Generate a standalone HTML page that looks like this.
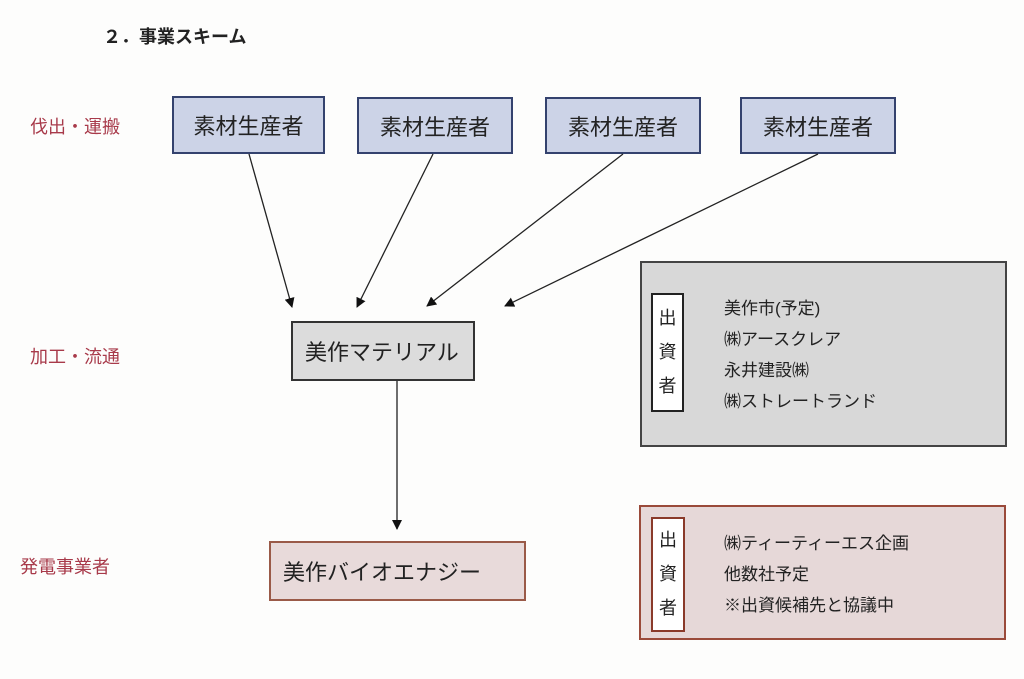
<!DOCTYPE html>
<html><head><meta charset="utf-8"><style>
body{margin:0;width:1024px;height:679px;background:#fdfdfc;position:relative;overflow:hidden;font-family:"Liberation Sans","Noto Sans CJK JP",sans-serif;color:#222}
.a{position:absolute;box-sizing:border-box}
.top{background:#ccd3e7;border:2px solid #34426e;font-size:22px;display:flex;align-items:center;justify-content:center}
.lab{position:absolute;color:#a83a4a;font-size:18px}
.side{position:absolute;background:#fff;box-sizing:border-box;font-size:18px;line-height:34px;text-align:center}
.txt{position:absolute;font-size:17px;line-height:31px}
</style></head><body>
<div class="a" style="left:103px;top:23px;font-size:18px;font-weight:bold">２．事業スキーム</div>
<div class="lab" style="left:30px;top:113px">伐出・運搬</div>
<div class="lab" style="left:30px;top:343px">加工・流通</div>
<div class="lab" style="left:20px;top:553px">発電事業者</div>
<div class="a top" style="left:172px;top:96px;width:153px;height:58px">素材生産者</div>
<div class="a top" style="left:357px;top:97px;width:156px;height:57px">素材生産者</div>
<div class="a top" style="left:545px;top:97px;width:156px;height:57px">素材生産者</div>
<div class="a top" style="left:740px;top:97px;width:156px;height:57px">素材生産者</div>
<div class="a top" style="left:291px;top:321px;width:184px;height:60px;background:#dcdcdc;border-color:#333;justify-content:flex-start;padding-left:12px">美作マテリアル</div>
<div class="a top" style="left:269px;top:541px;width:257px;height:60px;background:#e8dada;border-color:#9a5a48;justify-content:flex-start;padding-left:12px">美作バイオエナジー</div>
<div class="a" style="left:640px;top:261px;width:367px;height:186px;background:#d8d8d8;border:2px solid #444"></div>
<div class="side" style="left:651px;top:293px;width:33px;height:119px;border:2px solid #222;padding-top:6px">出<br>資<br>者</div>
<div class="txt" style="left:724px;top:293px">美作市(予定)<br>㈱アースクレア<br>永井建設㈱<br>㈱ストレートランド</div>
<div class="a" style="left:639px;top:505px;width:367px;height:135px;background:#e6d8d8;border:2px solid #9a4a3a"></div>
<div class="side" style="left:651px;top:517px;width:34px;height:115px;border:2px solid #8a3a2a;padding-top:4px">出<br>資<br>者</div>
<div class="txt" style="left:724px;top:528px">㈱ティーティーエス企画<br>他数社予定<br>※出資候補先と協議中</div>
<svg class="a" style="left:0;top:0" width="1024" height="679">
<defs><marker id="m" markerWidth="10" markerHeight="10" refX="9" refY="5" orient="auto" markerUnits="userSpaceOnUse"><path d="M0,0 L10,5 L0,10z" fill="#111"/></marker></defs>
<g stroke="#222" stroke-width="1.3" marker-end="url(#m)">
<line x1="249" y1="154" x2="292" y2="307"/>
<line x1="433" y1="154" x2="357" y2="307"/>
<line x1="623" y1="154" x2="427" y2="306"/>
<line x1="818" y1="154" x2="505" y2="306"/>
<line x1="397" y1="381" x2="397" y2="529"/>
</g></svg>
</body></html>
